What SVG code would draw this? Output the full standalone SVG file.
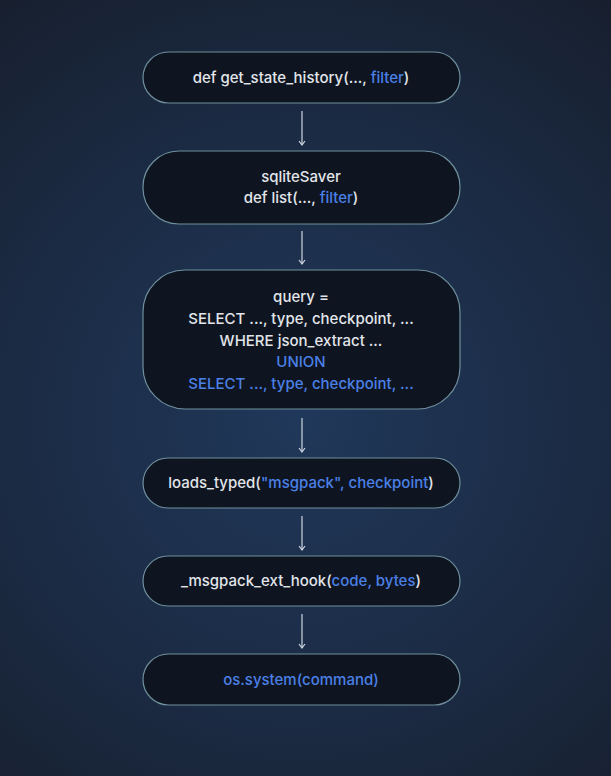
<svg xmlns="http://www.w3.org/2000/svg" width="611" height="776" viewBox="0 0 611 776">
<defs>
<radialGradient id="bg" cx="300" cy="420" r="520" gradientUnits="userSpaceOnUse">
<stop offset="0" stop-color="#20385a"/>
<stop offset="0.55" stop-color="#1b2b44"/>
<stop offset="1" stop-color="#171f2e"/>
</radialGradient>
<marker id="ah" viewBox="0 0 8 8" refX="7" refY="4" markerWidth="8" markerHeight="8" markerUnits="userSpaceOnUse" orient="auto">
<path d="M3,1 L7,4 L3,7" fill="none" stroke="#cfd6df" stroke-width="1.2"/>
</marker>
</defs>
<style>
.node{fill:#0e1521;stroke:#6f8f9c;stroke-width:1.2}
.t{font-family:Inter,"Noto Sans",sans-serif;font-size:15px;font-weight:500;fill:#e2e5ea;text-anchor:middle}
.b{fill:#4b80e6}
.conn line{stroke:#cfd6df;stroke-width:1.2;marker-end:url(#ah)}
</style>
<rect width="611" height="776" fill="url(#bg)"/>
<g id="n1">
<rect class="node" x="143" y="52" width="317" height="51" rx="25.5"/>
<text class="t" x="301" y="83">def get_state_history(..., <tspan class="b">filter</tspan>)</text>
</g>
<g id="n2">
<rect class="node" x="143" y="151" width="317" height="73" rx="36"/>
<text class="t" x="301" y="182">sqliteSaver</text>
<text class="t" x="301" y="203">def list(..., <tspan class="b">filter</tspan>)</text>
</g>
<g id="n3">
<rect class="node" x="143" y="270" width="317" height="139" rx="42"/>
<text class="t" x="301" y="302">query =</text>
<text class="t" x="301" y="324">SELECT ..., type, checkpoint, ...</text>
<text class="t" x="301" y="346">WHERE json_extract ...</text>
<text class="t b" x="301" y="367">UNION</text>
<text class="t b" x="301" y="389">SELECT ..., type, checkpoint, ...</text>
</g>
<g id="n4">
<rect class="node" x="143" y="458" width="317" height="50" rx="25"/>
<text class="t" x="301" y="488">loads_typed(<tspan class="b">"msgpack", checkpoint</tspan>)</text>
</g>
<g id="n5">
<rect class="node" x="143" y="556" width="317" height="50" rx="25"/>
<text class="t" x="301" y="586">_msgpack_ext_hook(<tspan class="b">code, bytes</tspan>)</text>
</g>
<g id="n6">
<rect class="node" x="143" y="654" width="317" height="51" rx="25.5"/>
<text class="t b" x="301" y="685">os.system(command)</text>
</g>
<g class="conn">
<line x1="302" y1="111" x2="302" y2="145"/>
<line x1="302" y1="231" x2="302" y2="264"/>
<line x1="302" y1="418" x2="302" y2="452"/>
<line x1="302" y1="516" x2="302" y2="550"/>
<line x1="302" y1="614" x2="302" y2="648"/>
</g>
</svg>
